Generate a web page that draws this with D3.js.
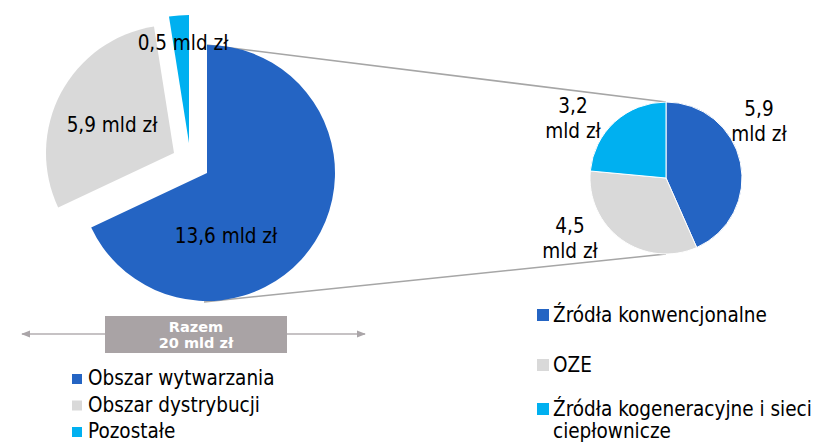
<!DOCTYPE html>
<html>
<head>
<meta charset="utf-8">
<script src="https://cdn.jsdelivr.net/npm/d3@7/dist/d3.min.js"></script>
<style>
  body { margin: 0; background: #fff; }
  text { font-family: "DejaVu Sans Condensed", "DejaVu Sans", sans-serif; }
</style>
</head>
<body>
<div id="chart"></div>
<script>
// dane - wykres glowny (mld zl)
var mainCategories = ["Obszar wytwarzania", "Obszar dystrybucji", "Pozostałe"];
var mainValues = [13.6, 5.9, 0.5];
var mainLabels = ["13,6 mld zł", "5,9 mld zł", "0,5 mld zł"];

// dane - rozbicie obszaru wytwarzania
var subCategories = [["Źródła konwencjonalne"], ["OZE"], ["Źródła kogeneracyjne i sieci", "ciepłownicze"]];
var subValues = [5.9, 4.5, 3.2];
var subLabels = [["5,9", "mld zł"], ["4,5", "mld zł"], ["3,2", "mld zł"]];

var totalLabel = ["Razem", "20 mld zł"];

var colors = ["#2464c3", "#d9d9d9", "#00b0f0"];

var width = 818;
var height = 444;

var svg = d3.select("#chart").append("svg")
  .attr("width", width)
  .attr("height", height);

// uklad
var main = {cx: 207, cy: 173, r: 128};
var sub = {cx: 666, cy: 178, r: 76};
var explode = [[0, 0], [-33, -20], [-18, -30]];
var mainLabelPos = [[19, 70], [-95, -41], [-24, -123]];
var subLabelPos = [[93, -62], [-96, 55], [-93, -65]];
var fs = "20.5px";

var pie = d3.pie().sort(null).value(function(d) { return d; });

// linie laczace
svg.append("line")
  .attr("x1", main.cx).attr("y1", main.cy - main.r)
  .attr("x2", sub.cx).attr("y2", sub.cy - sub.r)
  .style("stroke", "#a6a6a6").style("stroke-width", 1.5);
svg.append("line")
  .attr("x1", main.cx - 3).attr("y1", main.cy + main.r + 1)
  .attr("x2", sub.cx).attr("y2", sub.cy + sub.r)
  .style("stroke", "#a6a6a6").style("stroke-width", 1.5);

var mainArc = d3.arc().innerRadius(0).outerRadius(main.r);
var g1 = svg.append("g").attr("transform", "translate(" + main.cx + "," + main.cy + ")");

g1.selectAll(".slice")
  .data(pie(mainValues))
  .enter().append("path")
  .attr("class", "slice")
  .attr("transform", function(d, i) { return "translate(" + explode[i][0] + "," + explode[i][1] + ")"; })
  .style("fill", function(d, i) { return colors[i]; })
  .attr("d", mainArc);

g1.selectAll(".lbl")
  .data(mainLabels)
  .enter().append("text")
  .attr("class", "lbl")
  .attr("x", function(d, i) { return mainLabelPos[i][0]; })
  .attr("y", function(d, i) { return mainLabelPos[i][1]; })
  .attr("text-anchor", "middle")
  .style("font-size", fs)
  .style("fill", "#000")
  .text(function(d) { return d; });

var subArc = d3.arc().innerRadius(0).outerRadius(sub.r);
var g2 = svg.append("g").attr("transform", "translate(" + sub.cx + "," + sub.cy + ")");

g2.selectAll(".slice")
  .data(pie(subValues))
  .enter().append("path")
  .attr("class", "slice")
  .style("fill", function(d, i) { return colors[i]; })
  .style("stroke", "#fff")
  .style("stroke-width", 1)
  .attr("d", subArc);

var sl = g2.selectAll(".lbl")
  .data(subLabels)
  .enter().append("text")
  .attr("class", "lbl")
  .attr("text-anchor", "middle")
  .style("font-size", fs)
  .style("fill", "#000");
sl.selectAll("tspan")
  .data(function(d, i) { return d.map(function(t) { return {t: t, i: i}; }); })
  .enter().append("tspan")
  .attr("x", function(d) { return subLabelPos[d.i][0]; })
  .attr("y", function(d, j) { return subLabelPos[d.i][1] + j * 25; })
  .text(function(d) { return d.t; });

// razem
var arrowY = 334;
var defs = svg.append("defs");
defs.append("marker")
  .attr("id", "arr")
  .attr("viewBox", "0 0 10 10")
  .attr("refX", 9).attr("refY", 5)
  .attr("markerWidth", 6).attr("markerHeight", 6)
  .attr("orient", "auto-start-reverse")
  .append("path").attr("d", "M0,1L10,5L0,9z").style("fill", "#aaa5a8");

svg.append("line")
  .attr("x1", 22).attr("y1", arrowY).attr("x2", 365).attr("y2", arrowY)
  .style("stroke", "#b3aeb1").style("stroke-width", 1.5)
  .attr("marker-start", "url(#arr)")
  .attr("marker-end", "url(#arr)");

svg.append("rect")
  .attr("x", 105).attr("y", 316).attr("width", 182).attr("height", 37)
  .style("fill", "#a9a3a5");

svg.selectAll(".tot")
  .data(totalLabel)
  .enter().append("text")
  .attr("class", "tot")
  .attr("x", 196)
  .attr("y", function(d, i) { return 332 + i * 16; })
  .attr("text-anchor", "middle")
  .style("font-family", "'DejaVu Sans', sans-serif")
  .style("font-weight", "bold")
  .style("font-size", "14.5px")
  .style("fill", "#fff")
  .text(function(d) { return d; });

// legenda lewa
var leg1 = svg.selectAll(".leg1")
  .data(mainCategories)
  .enter().append("g")
  .attr("class", "leg1")
  .attr("transform", function(d, i) { return "translate(72," + (385 + i * 26.5) + ")"; });
leg1.append("rect")
  .attr("x", 0).attr("y", -11).attr("width", 10).attr("height", 10)
  .style("fill", function(d, i) { return colors[i]; });
leg1.append("text")
  .attr("x", 16).attr("y", 0)
  .style("font-size", fs)
  .text(function(d) { return d; });

// legenda prawa
var legY = [322, 372, 416];
var leg2 = svg.selectAll(".leg2")
  .data(subCategories)
  .enter().append("g")
  .attr("class", "leg2")
  .attr("transform", function(d, i) { return "translate(537," + legY[i] + ")"; });
leg2.append("rect")
  .attr("x", 0).attr("y", -13).attr("width", 12).attr("height", 12)
  .style("fill", function(d, i) { return colors[i]; });
leg2.selectAll("text")
  .data(function(d) { return d; })
  .enter().append("text")
  .attr("x", 16)
  .attr("y", function(d, j) { return j * 22; })
  .style("font-size", fs)
  .text(function(d) { return d; });
</script>
</body>
</html>
